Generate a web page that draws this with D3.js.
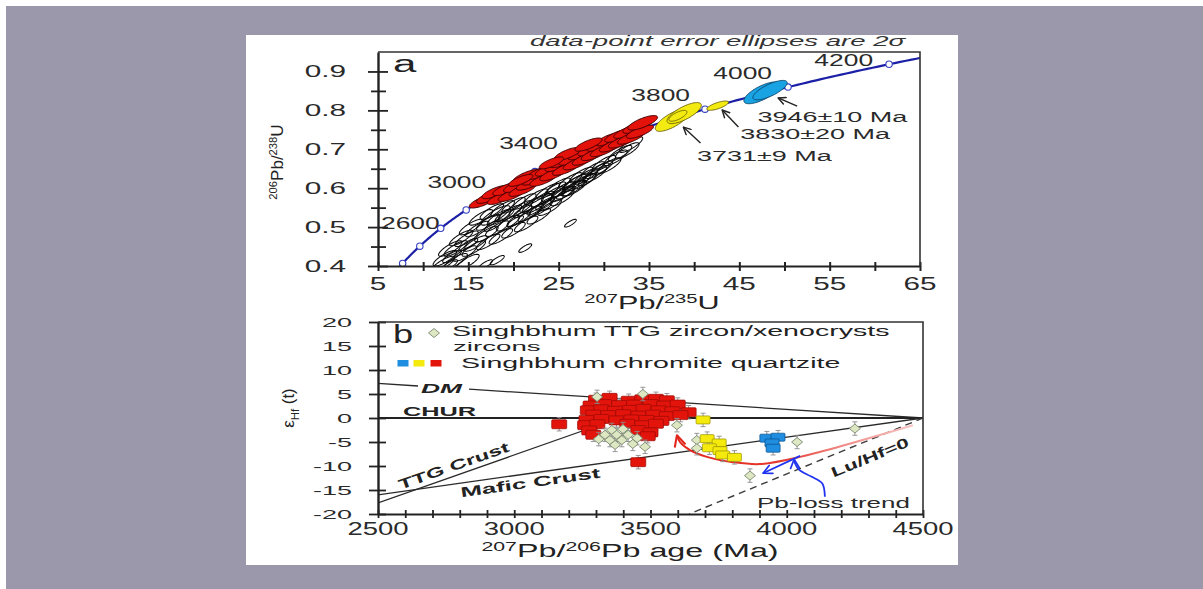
<!DOCTYPE html>
<html>
<head>
<meta charset="utf-8">
<script src="https://cdn.jsdelivr.net/npm/d3@7/dist/d3.min.js"></script>
<style>
  html, body { margin: 0; padding: 0; background: #fff; }
  svg { display: block; }
</style>
</head>
<body>
<svg id="fig" width="1203" height="589"></svg>
<script>
// ---------------------------------------------------------------
// Panel a: U–Pb concordia
// ---------------------------------------------------------------
const LAMBDA_238 = 1.55125e-4;   // per Myr
const LAMBDA_235 = 9.8485e-4;    // per Myr

const concordiaMarkerAges = [2200, 2400, 2600, 2800, 3000, 3200, 3400, 3600, 3800, 4000, 4200];
const concordiaLabelAges  = [2600, 3000, 3400, 3800, 4000, 4200];

const xTicksA = [5, 15, 25, 35, 45, 55, 65];
const yTicksA = [0.4, 0.5, 0.6, 0.7, 0.8, 0.9];

// Singhbhum TTG zircons (open ellipses): [207Pb/235U, 206Pb/238U, error scale]
const ttgZirconRatios = [
  [13.0,0.445],[14.2,0.472],[15.3,0.500],[16.4,0.525],[17.6,0.540],[18.8,0.548],[20.0,0.556],
  [21.2,0.566],[22.5,0.578],[23.8,0.592],[25.0,0.606],[26.3,0.620],[27.5,0.634],[28.8,0.648],
  [30.0,0.664],[31.3,0.678],[32.6,0.697],
  [12.4,0.420],[13.6,0.445],[14.8,0.470],[16.0,0.495],[17.2,0.512],[18.4,0.525],[19.6,0.536],
  [20.8,0.548],[22.0,0.558],[23.2,0.572],[24.4,0.585],[25.6,0.598],[26.8,0.615],[28.0,0.630],
  [29.3,0.645],[30.6,0.658],
  [12.2,0.405],[14.6,0.432],[15.8,0.458],[17.0,0.482],[18.2,0.496],[19.4,0.510],[20.6,0.522],
  [21.8,0.534],[23.0,0.548],[24.2,0.562],[25.4,0.585],[26.6,0.600],[27.8,0.618],[29.0,0.635],
  [15.6,0.445],[17.2,0.462],[18.6,0.476],[20.0,0.492],[21.4,0.508],[22.8,0.528],[24.0,0.550],
  [25.4,0.575],[26.8,0.600],
  [19.0,0.530,0.8],[21.0,0.540,0.8],[23.5,0.560,0.8],[25.8,0.588,0.8],[28.2,0.622,0.8],
  [17.8,0.505,0.8],[15.0,0.455,0.8],[13.2,0.425,0.8],[20.2,0.515,0.7],[22.4,0.545,0.7],
  [18.0,0.530,1.25],[22.6,0.560,1.25],[27.0,0.615,1.2],[24.6,0.598,0.9],[29.8,0.652,0.9],
  [31.8,0.690],[33.0,0.712],[13.6,0.412],[14.9,0.410],[12.9,0.402,0.7],
  [16.9,0.404,0.6],[18.2,0.415,0.6],[21.3,0.446,0.55],[26.3,0.510,0.5]
];

// chromite quartzite zircons, red group: [207Pb/235U, 206Pb/238U, error scale]
const quartziteRedRatios = [
  [16.6,0.566],[17.4,0.578],[18.0,0.590],[18.6,0.575],[19.2,0.598],[19.8,0.583],[20.4,0.606],
  [21.0,0.596],[21.5,0.630,1.1],[21.8,0.612],[22.4,0.625],[23.0,0.640],[23.3,0.622],[23.9,0.648],
  [24.4,0.636],[25.0,0.660],[25.5,0.670],[25.8,0.650],[26.5,0.676],[27.0,0.664],[27.5,0.690],
  [28.0,0.676],[28.6,0.700],[29.0,0.688],[29.6,0.712],[30.0,0.698],[30.6,0.726],[31.0,0.710],
  [31.6,0.735],[32.0,0.720],[32.6,0.745],[33.0,0.730],[33.6,0.758],[34.0,0.745],[34.3,0.768,1.1],
  [26.0,0.688],[28.3,0.712],[24.2,0.665,0.9],[20.8,0.620,0.9]
];
const redErr = { s75: 1.5, s68: 0.017, rho: 0.75 };
const ttgErr = { s75: 1.3, s68: 0.020, rho: 0.82 };

// yellow and blue groups: [207Pb/235U, err, 206Pb/238U, err, rho]
const quartziteYellowRatios = [
  [37.6, 1.9, 0.775, 0.029, 0.74],
  [38.9, 1.9, 0.793, 0.027, 0.74],
  [38.2, 1.0, 0.786, 0.014, 0.70],
  [42.6, 1.2, 0.812, 0.012, 0.72]
];
const quartziteBlueRatios = [
  [47.5, 2.0, 0.845, 0.028, 0.72],
  [48.4, 1.9, 0.852, 0.025, 0.75]
];
const weightedAges = ["3946±10 Ma", "3830±20 Ma", "3731±9 Ma"];

// ---------------------------------------------------------------
// Panel b: εHf(t) vs 207Pb/206Pb age
// ---------------------------------------------------------------
const xTicksB = [2500, 3000, 3500, 4000, 4500];
const yTicksB = [20, 15, 10, 5, 0, -5, -10, -15, -20];
const hfErr = 1.4;

const hfTTG = [
  [3304,4.4],[3472,5.0],[3597,-1.5],[3480,-6.0],[3670,-4.6],[3670,-6.3],[3865,-12.0],
  [4038,-5.0],[4250,-2.2],
  [3358,-2.5],[3399,-2.3],[3333,-3.5],[3376,-3.5],[3418,-3.5],[3351,-4.6],[3395,-4.6],
  [3370,-5.6],[3451,-4.2],[3310,-4.4],[3435,-5.4]
];
const hfRed = [
  [3300,3.8],[3350,4.2],[3420,3.6],[3470,3.9],[3520,4.0],[3560,3.7],
  [3280,2.6],[3330,2.9],[3385,2.7],[3440,2.8],[3500,2.9],[3550,2.6],[3600,2.8],
  [3270,1.6],[3320,1.8],[3370,1.5],[3425,1.7],[3475,1.9],[3530,1.6],[3580,1.4],[3640,1.2],
  [3290,0.7],[3345,0.6],[3400,0.8],[3455,0.5],[3510,0.7],[3560,0.4],[3610,0.6],
  [3265,-0.4],[3320,-0.2],[3375,-0.5],[3430,-0.3],[3485,-0.4],[3540,-0.6],
  [3260,-1.5],[3305,-1.3],[3415,-1.2],[3470,-1.5],[3520,-1.2],
  [3275,-2.6],[3455,-2.5],[3500,-3.0],
  [3290,-3.5],[3490,-3.8],
  [3165,-1.3],[3455,-9.2]
];
const hfYellow = [[3693,-0.4],[3708,-4.3],[3752,-5.2],[3716,-6.2],[3755,-6.8],[3765,-7.7],[3808,-8.2]];
const hfBlue = [[3927,-4.2],[3968,-4.0],[3946,-5.2],[3950,-6.3]];

// reference evolution lines: [age Ma, εHf]
const dmLine = [[2500, 7.2], [4500, 0]];
const churLine = [[2500, 0], [4500, 0]];
const ttgCrustLine = [[2500, -17.7], [3385, 0]];
const maficCrustLine = [[2500, -16], [4500, 0]];
const luHfZeroLine = [[4500, 0], [3642, -20]];

// Pb-loss annotation paths: [age Ma, εHf]
const pbLossCurve = [[4463,-1.5],[4049,-8.1],[3902,-9.6],[3803,-9.2],[3707,-8.1],[3645,-6.7],[3608,-5.0],[3597,-3.6]];
const pbLossArrow = [[4049,-7.9],[3913,-11.5]];
const pbLossPointer = [[4140,-16.4],[4130,-13.6],[4090,-12.2],[4046,-10.8],[4030,-9.4],[4027,-8.6]];

// ---------------------------------------------------------------
// drawing
// ---------------------------------------------------------------
const svg = d3.select("#fig");
svg.append("rect").attr("width", 1203).attr("height", 589).attr("fill", "#ffffff");
svg.append("rect").attr("x", 6).attr("y", 6).attr("width", 1197).attr("height", 583).attr("fill", "#9a98aa");
svg.append("rect").attr("x", 246).attr("y", 35).attr("width", 712).attr("height", 530).attr("fill", "#ffffff");

const defs = svg.append("defs");
defs.append("clipPath").attr("id", "sheet").append("rect")
  .attr("x", 246).attr("y", 35).attr("width", 712).attr("height", 530);

function arrowMarker(id, color, size) {
  defs.append("marker").attr("id", id)
    .attr("viewBox", "0 0 10 10").attr("refX", 9).attr("refY", 5)
    .attr("markerUnits", "userSpaceOnUse")
    .attr("markerWidth", size).attr("markerHeight", size)
    .attr("orient", "auto")
    .append("path").attr("d", "M1,1 L9,5 L1,9")
    .attr("fill", "none").attr("stroke", color).attr("stroke-width", 1.6)
    .attr("stroke-linecap", "round").attr("stroke-linejoin", "round");
}
arrowMarker("headBlack", "#222", 9);
arrowMarker("headRed", "#e2261c", 13);
arrowMarker("headBlue", "#2034f0", 11);

const fig = svg.append("g").attr("clip-path", "url(#sheet)")
  .attr("font-family", "'Liberation Sans', Arial, Helvetica, sans-serif");

function addText(g, x, y, parts, o = {}) {
  const size = o.size || 16, sx = o.sx || 1.7;
  const t = g.append("text")
    .attr("transform", `translate(${x},${y}) rotate(${o.rotate || 0}) scale(${sx},1)`)
    .attr("text-anchor", o.anchor || "start")
    .attr("font-size", size)
    .attr("font-weight", o.weight || "normal")
    .attr("font-style", o.italic ? "italic" : "normal")
    .attr("fill", o.fill || "#222");
  if (typeof parts === "string") parts = [[parts]];
  let shift = 0;
  parts.forEach(([s, kind]) => {
    const target = kind === "sup" ? -0.34 * size : kind === "sub" ? 0.3 * size : 0;
    t.append("tspan").attr("dy", target - shift)
      .attr("font-size", kind ? size * 0.66 : size).text(s);
    shift = target;
  });
  return t;
}

// ================= panel a =================
const xA = d3.scaleLinear().domain([5, 65]).range([378, 920]);
const yA = d3.scaleLinear().domain([0.4, 0.95]).range([266, 52]);
const gA = fig.append("g");
defs.append("clipPath").attr("id", "plotA").append("rect")
  .attr("x", 378).attr("y", 52).attr("width", 542).attr("height", 214);

const concordia = t => [Math.expm1(LAMBDA_235 * t), Math.expm1(LAMBDA_238 * t)];
const plotA = gA.append("g").attr("clip-path", "url(#plotA)");

const lineA = d3.line().x(d => xA(d[0])).y(d => yA(d[1]));
plotA.append("path")
  .attr("d", lineA(d3.range(2000, 4601, 10).map(concordia)))
  .attr("fill", "none").attr("stroke", "#1b20a6").attr("stroke-width", 2.2);
plotA.selectAll("circle.age").data(concordiaMarkerAges).join("circle")
  .attr("class", "age")
  .attr("cx", t => xA(concordia(t)[0])).attr("cy", t => yA(concordia(t)[1]))
  .attr("r", 3.2).attr("fill", "#fff").attr("stroke", "#3440c0").attr("stroke-width", 1.1);

function ellipsePts(cx, ex, cy, ey, rho) {
  const r = Math.sqrt(1 - rho * rho);
  return d3.range(72).map(i => {
    const a = i / 72 * 2 * Math.PI;
    return [cx + ex * Math.cos(a), cy + ey * (rho * Math.cos(a) + r * Math.sin(a))];
  });
}
const ellLine = d3.line().x(d => xA(d[0])).y(d => yA(d[1])).curve(d3.curveLinearClosed);

plotA.append("g").selectAll("path").data(ttgZirconRatios).join("path")
  .attr("d", d => { const k = d[2] || 1; return ellLine(ellipsePts(d[0], ttgErr.s75 * k, d[1], ttgErr.s68 * k, ttgErr.rho)); })
  .attr("fill", "none").attr("stroke", "#0a0a0a").attr("stroke-width", 1.05);

plotA.append("g").selectAll("path").data(quartziteRedRatios).join("path")
  .attr("d", d => { const k = d[2] || 1; return ellLine(ellipsePts(d[0], redErr.s75 * k, d[1], redErr.s68 * k, redErr.rho)); })
  .attr("fill", "#e3120b").attr("stroke", "#3a0000").attr("stroke-width", 0.95);

plotA.append("g").selectAll("path").data(quartziteYellowRatios).join("path")
  .attr("d", d => ellLine(ellipsePts(...d)))
  .attr("fill", "#f3ea12").attr("stroke", "#5a5200").attr("stroke-width", 0.8);

plotA.append("g").selectAll("path").data(quartziteBlueRatios).join("path")
  .attr("d", d => ellLine(ellipsePts(...d)))
  .attr("fill", "#1aa3e3").attr("stroke", "#093a60").attr("stroke-width", 0.8);

// axes of panel a
gA.append("g").attr("transform", "translate(0,266)")
  .call(d3.axisBottom(xA).tickValues(d3.range(5, 66, 5)).tickSize(0).tickFormat(""))
  .call(g => g.select(".domain").attr("stroke", "#222").attr("stroke-width", 2.2))
  .call(g => g.selectAll(".tick line").attr("y1", -4).attr("y2", 5)
    .attr("stroke", "#222").attr("stroke-width", 2));
gA.append("g").attr("transform", "translate(378,0)")
  .call(d3.axisLeft(yA).tickValues(d3.range(0.4, 0.9001, 0.05)).tickSize(0).tickFormat(""))
  .call(g => g.select(".domain").attr("stroke", "#222").attr("stroke-width", 2.4))
  .call(g => g.selectAll(".tick line")
    .attr("x1", (d, i) => i % 2 ? -7 : -10).attr("x2", (d, i) => i % 2 ? 8 : 10)
    .attr("stroke", "#222").attr("stroke-width", 1.8));
gA.append("path")
  .attr("d", `M${xA(5)},${yA(0.95)}H${xA(65)}V${yA(0.4)}`)
  .attr("fill", "none").attr("stroke", "#333").attr("stroke-width", 1.6);

xTicksA.forEach(v => addText(gA, xA(v), 290, String(v), { anchor: "middle", size: 18, sx: 1.65, fill: "#2a2a2a" }));
yTicksA.forEach(v => addText(gA, 346, yA(v) + 6, v.toFixed(1), { anchor: "end", size: 17, sx: 1.75, fill: "#2a2a2a" }));

// concordia age labels
const labelNudge = { 2600: [-1, 1], 3000: [-11, -3], 3400: [-23, -2], 3800: [-15, -8], 4000: [-16, -8], 4200: [-16, 2] };
concordiaLabelAges.forEach(t => {
  const [x, y] = concordia(t), [dx, dy] = labelNudge[t];
  addText(gA, xA(x) + dx, yA(y) + dy, String(t), { anchor: "end", size: 16.5, sx: 1.6, fill: "#2a2a2a" });
});

// weighted-mean age call-outs (anchored in ratio space)
const callouts = [
  { text: weightedAges[0], tip: [49.3, 0.832], tail: [51.4, 0.811], at: [47.0, 0.770] },
  { text: weightedAges[1], tip: [43.1, 0.801], tail: [44.9, 0.757], at: [45.1, 0.726] },
  { text: weightedAges[2], tip: [38.8, 0.757], tail: [40.7, 0.716], at: [40.3, 0.671] }
];
callouts.forEach(c => {
  gA.append("line")
    .attr("x1", xA(c.tail[0])).attr("y1", yA(c.tail[1]))
    .attr("x2", xA(c.tip[0])).attr("y2", yA(c.tip[1]))
    .attr("stroke", "#222").attr("stroke-width", 1.4).attr("marker-end", "url(#headBlack)");
  addText(gA, xA(c.at[0]), yA(c.at[1]), c.text, { size: 15, sx: 1.8, fill: "#2a2a2a" });
});

addText(gA, 393, 72, "a", { size: 24, sx: 1.75 });
addText(gA, 530, 46, "data-point error ellipses are 2σ", { size: 14, sx: 1.97, italic: true, fill: "#333" });

addText(gA, 652, 309, [["207", "sup"], ["Pb/"], ["235", "sup"], ["U"]], { anchor: "middle", size: 18, sx: 1.7 });
addText(gA, 283, 162, [["206", "sup"], ["Pb/"], ["238", "sup"], ["U"]], { anchor: "middle", size: 17, sx: 1, rotate: -90 });

// ================= panel b =================
const xB = d3.scaleLinear().domain([2500, 4500]).range([378, 923]);
const yB = d3.scaleLinear().domain([-20, 20]).range([514, 322]);
const gB = fig.append("g");
defs.append("clipPath").attr("id", "plotB").append("rect")
  .attr("x", 378).attr("y", 322).attr("width", 545).attr("height", 192);
const plotB = gB.append("g").attr("clip-path", "url(#plotB)");
const lineB = d3.line().x(d => xB(d[0])).y(d => yB(d[1]));

// DM line broken around its label
const dmAt = t => dmLine[0][1] + (dmLine[1][1] - dmLine[0][1]) * (t - dmLine[0][0]) / (dmLine[1][0] - dmLine[0][0]);
const dmGap = [xB.invert(418), xB.invert(469)];
plotB.append("path").attr("d", lineB([dmLine[0], [dmGap[0], dmAt(dmGap[0])]]))
  .attr("stroke", "#2a2a2a").attr("stroke-width", 1.3).attr("fill", "none");
plotB.append("path").attr("d", lineB([[dmGap[1], dmAt(dmGap[1])], dmLine[1]]))
  .attr("stroke", "#2a2a2a").attr("stroke-width", 1.3).attr("fill", "none");
plotB.append("path").attr("d", lineB(churLine)).attr("stroke", "#222").attr("stroke-width", 1.9).attr("fill", "none");
plotB.append("path").attr("d", lineB(ttgCrustLine)).attr("stroke", "#2a2a2a").attr("stroke-width", 1.3).attr("fill", "none");
plotB.append("path").attr("d", lineB(maficCrustLine)).attr("stroke", "#2a2a2a").attr("stroke-width", 1.3).attr("fill", "none");
plotB.append("path").attr("d", lineB(luHfZeroLine)).attr("stroke", "#3a3a3a").attr("stroke-width", 1.4)
  .attr("stroke-dasharray", "7,5").attr("fill", "none");

// Pb-loss trend annotation
const grad = defs.append("linearGradient").attr("id", "pbGrad").attr("gradientUnits", "userSpaceOnUse")
  .attr("x1", xB(3597)).attr("x2", xB(4463)).attr("y1", 0).attr("y2", 0);
grad.append("stop").attr("offset", 0).attr("stop-color", "#e2261c");
grad.append("stop").attr("offset", 0.45).attr("stop-color", "#e53a30");
grad.append("stop").attr("offset", 0.7).attr("stop-color", "#f08a86");
grad.append("stop").attr("offset", 1).attr("stop-color", "#f7c4c2");
plotB.append("path").attr("d", d3.line().x(d => xB(d[0])).y(d => yB(d[1])).curve(d3.curveCatmullRom)(pbLossCurve))
  .attr("fill", "none").attr("stroke", "url(#pbGrad)").attr("stroke-width", 2)
  .attr("marker-end", "url(#headRed)");
plotB.append("path").attr("d", lineB(pbLossArrow))
  .attr("fill", "none").attr("stroke", "#2034f0").attr("stroke-width", 1.8)
  .attr("marker-end", "url(#headBlue)");
plotB.append("path").attr("d", d3.line().x(d => xB(d[0])).y(d => yB(d[1])).curve(d3.curveCatmullRom)(pbLossPointer))
  .attr("fill", "none").attr("stroke", "#2034f0").attr("stroke-width", 1.8)
  .attr("marker-end", "url(#headBlue)");

// error bars and symbols
function errorBars(g, data) {
  const eb = g.append("g").attr("stroke", "#8c8c8c").attr("stroke-width", 0.9);
  data.forEach(([t, e]) => {
    const x = xB(t), y1 = yB(e - hfErr), y2 = yB(e + hfErr);
    eb.append("line").attr("x1", x).attr("x2", x).attr("y1", y1).attr("y2", y2);
    eb.append("line").attr("x1", x - 2.5).attr("x2", x + 2.5).attr("y1", y1).attr("y2", y1);
    eb.append("line").attr("x1", x - 2.5).attr("x2", x + 2.5).attr("y1", y2).attr("y2", y2);
  });
}
const diamond = "M0,-4.5L5.5,0L0,4.5L-5.5,0Z";
function squares(data, fill, stroke, w, h) {
  errorBars(plotB, data);
  plotB.append("g").selectAll("rect").data(data).join("rect")
    .attr("x", d => xB(d[0]) - w / 2).attr("y", d => yB(d[1]) - h / 2)
    .attr("width", w).attr("height", h).attr("rx", 1)
    .attr("fill", fill).attr("stroke", stroke).attr("stroke-width", 0.7);
}
squares(hfRed, "#e3140c", "#9a0a05", 15, 9);
errorBars(plotB, hfTTG);
plotB.append("g").selectAll("path").data(hfTTG).join("path")
  .attr("d", diamond).attr("transform", d => `translate(${xB(d[0])},${yB(d[1])})`)
  .attr("fill", "#dde8c3").attr("stroke", "#7b8870").attr("stroke-width", 0.9);
squares(hfYellow, "#f4ea0e", "#9a8f00", 14, 8);
squares(hfBlue, "#1f8de0", "#0b4f8a", 14, 8);

// axes of panel b
gB.append("g").attr("transform", "translate(0,514)")
  .call(d3.axisBottom(xB).tickValues(d3.range(2500, 4501, 100)).tickSize(0).tickFormat(""))
  .call(g => g.select(".domain").attr("stroke", "#222").attr("stroke-width", 2.2))
  .call(g => g.selectAll(".tick line").attr("y1", -4).attr("y2", 4)
    .attr("stroke", "#222").attr("stroke-width", 1.8));
gB.append("g").attr("transform", "translate(378,0)")
  .call(d3.axisLeft(yB).tickValues(yTicksB).tickSize(0).tickFormat(""))
  .call(g => g.select(".domain").attr("stroke", "#222").attr("stroke-width", 2.4))
  .call(g => g.selectAll(".tick line").attr("x1", -9).attr("x2", 8)
    .attr("stroke", "#222").attr("stroke-width", 1.8));
gB.append("path")
  .attr("d", `M${xB(2500)},${yB(20)}H${xB(4500)}V${yB(-20)}`)
  .attr("fill", "none").attr("stroke", "#333").attr("stroke-width", 1.6);

xTicksB.forEach(v => addText(gB, xB(v), 535, String(v), { anchor: "middle", size: 17.5, sx: 1.57, fill: "#2a2a2a" }));
yTicksB.forEach(v => addText(gB, 352, yB(v) + 4.8, String(v), { anchor: "end", size: 13.5, sx: 2.0, fill: "#2a2a2a" }));

// line labels
addText(gB, 421, 393, "DM", { size: 12, sx: 2.2, weight: "bold", italic: true });
addText(gB, 403, 416, "CHUR", { size: 13, sx: 1.95, weight: "bold" });

function alongLine(line, t, offset) {
  const [a, b] = line;
  const x0 = xB(a[0]), y0 = yB(a[1]), x1 = xB(b[0]), y1 = yB(b[1]);
  const ang = Math.atan2(y1 - y0, x1 - x0);
  const dirAng = Math.cos(ang) < 0 ? ang + Math.PI : ang;
  const f = (t - a[0]) / (b[0] - a[0]);
  const px = x0 + f * (x1 - x0), py = y0 + f * (y1 - y0);
  // offset perpendicular to the line (positive = below it on screen)
  return { x: px - Math.sin(dirAng) * offset, y: py + Math.cos(dirAng) * offset, deg: dirAng * 180 / Math.PI };
}
let p = alongLine(ttgCrustLine, 2790, -5);
addText(gB, p.x, p.y, "TTG Crust", { anchor: "middle", size: 14, sx: 1.7, weight: "bold", rotate: p.deg });
p = alongLine(maficCrustLine, 3054, 14);
addText(gB, p.x, p.y, "Mafic Crust", { anchor: "middle", size: 14, sx: 1.85, weight: "bold", rotate: p.deg });
p = alongLine(luHfZeroLine, 4283, 21);
addText(gB, p.x, p.y, "Lu/Hf=0", { anchor: "middle", size: 14, sx: 1.6, weight: "bold", rotate: p.deg });
addText(gB, 757, 508, "Pb-loss trend", { size: 15, sx: 1.73, fill: "#2a2a2a" });

// legend
addText(gB, 393, 343, "b", { size: 25, sx: 1.45 });
gB.append("path").attr("d", diamond).attr("transform", "translate(434,333)")
  .attr("fill", "#dde8c3").attr("stroke", "#7b8870").attr("stroke-width", 0.9);
addText(gB, 452, 336, "Singhbhum TTG zircon/xenocrysts", { size: 14.5, sx: 1.97 });
addText(gB, 453, 351, "zircons", { size: 13.5, sx: 2.05 });
[["#1f8de0", 403], ["#f4ea0e", 419], ["#e3140c", 436]].forEach(([c, x]) =>
  gB.append("rect").attr("x", x - 5.5).attr("y", 360).attr("width", 11).attr("height", 6.5).attr("fill", c));
addText(gB, 461, 368, "Singhbhum chromite quartzite", { size: 14.5, sx: 1.97 });

addText(gB, 630, 557, [["207", "sup"], ["Pb/"], ["206", "sup"], ["Pb age (Ma)"]], { anchor: "middle", size: 19, sx: 1.7 });
addText(gB, 294, 408, [["ε"], ["Hf", "sub"], [" (t)"]], { anchor: "middle", size: 17, sx: 1, rotate: -90 });
</script>
</body>
</html>
